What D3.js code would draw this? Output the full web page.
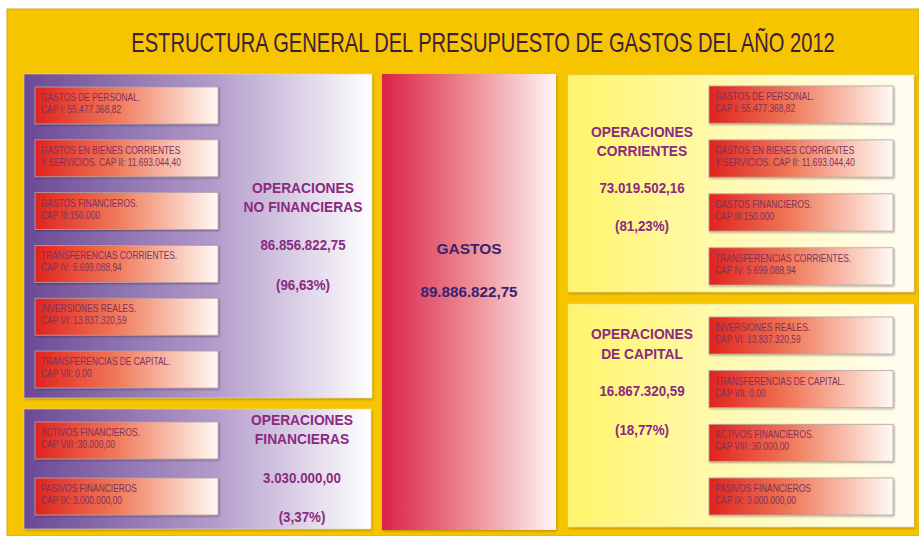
<!DOCTYPE html>
<html><head><meta charset="utf-8">
<script src="https://cdn.jsdelivr.net/npm/d3@7"></script>
<style>html,body{margin:0;padding:0;background:#fff;}svg{display:block;}</style>
</head><body>
<script>
// ---- data ----
const title = "ESTRUCTURA GENERAL DEL PRESUPUESTO DE GASTOS DEL AÑO 2012";
const chapterLine1 = [
  "GASTOS DE PERSONAL.",
  "GASTOS EN BIENES CORRIENTES",
  "GASTOS FINANCIEROS.",
  "TRANSFERENCIAS CORRIENTES.",
  "INVERSIONES REALES.",
  "TRANSFERENCIAS DE CAPITAL.",
  "ACTIVOS FINANCIEROS.",
  "PASIVOS FINANCIEROS"
];
const chapterLine2 = [
  "CAP I: 55.477.368,82",
  "Y SERVICIOS. CAP II: 11.693.044,40",
  "CAP III:150.000",
  "CAP IV: 5.699.088,94",
  "CAP VI: 13.837.320,59",
  "CAP VII: 0,00",
  "CAP VIII :30.000,00",
  "CAP IX: 3.000.000,00"
];
const groupName1 = ["OPERACIONES", "OPERACIONES", "OPERACIONES", "OPERACIONES"];
const groupName2 = ["NO FINANCIERAS", "FINANCIERAS", "CORRIENTES", "DE CAPITAL"];
const groupTotals = ["86.856.822,75", "3.030.000,00", "73.019.502,16", "16.867.320,59"];
const groupShares = ["(96,63%)", "(3,37%)", "(81,23%)", "(18,77%)"];
const groupMembers = [[0,1,2,3,4,5], [6,7], [0,1,2,3], [4,5,6,7]];
const totalName = "GASTOS";
const totalValue = "89.886.822,75";

// ---- layout (not data) ----
const W = 919, H = 536;
const panels = [
  {x:24, y:74, w:348, h:324, fill:"gPurple", boxX:35, boxW:183, band:[87,388], pad:0.3, labelX:303, labelY:[193,212,250,290]},
  {x:24, y:409, w:347, h:120, fill:"gPurple", boxX:35, boxW:183, band:[422,515], pad:0.34, labelX:302, labelY:[425,444,483,522]},
  {x:568, y:75, w:346, h:217, fill:"gYellow", boxX:709, boxW:184, band:[86,285], pad:0.31, labelX:642, labelY:[137,156,193,231]},
  {x:568, y:304, w:346, h:223, fill:"gYellow", boxX:709, boxW:184, band:[317,515], pad:0.31, labelX:642, labelY:[339,359,396,435]}
];
const center = {x:382, y:74, w:174, h:456, cx:469, ty:[254,297]};
const FONT = "Arial,'Liberation Sans',sans-serif";

const svg = d3.select("body").append("svg").attr("width", W).attr("height", H);
const defs = svg.append("defs");
function grad(id, c0, c1, mid) {
  const g = defs.append("linearGradient").attr("id", id).attr("x1","0").attr("x2","1").attr("y1","0").attr("y2","0");
  g.append("stop").attr("offset","0").attr("stop-color", c0);
  if (mid) g.append("stop").attr("offset", mid[0]).attr("stop-color", mid[1]);
  g.append("stop").attr("offset","1").attr("stop-color", c1);
}
grad("gPurple", "#6a4995", "#ffffff", [0.55, "#b39ccb"]);
grad("gYellow", "#fff46a", "#fffdf4", [0.5, "#fffab8"]);
grad("gRed", "#e0231e", "#fffaf6", [0.45, "#f07a5a"]);
grad("gCenter", "#dc2148", "#fff6f6", [0.5, "#ec8a92"]);
const sh = defs.append("filter").attr("id","sh").attr("x","-5%").attr("y","-5%").attr("width","115%").attr("height","115%");
sh.append("feDropShadow").attr("dx",1).attr("dy",1.5).attr("stdDeviation",1).attr("flood-color","#7a5a00").attr("flood-opacity",0.45);
const sh2 = defs.append("filter").attr("id","sh2").attr("x","-5%").attr("y","-10%").attr("width","115%").attr("height","130%");
sh2.append("feDropShadow").attr("dx",1).attr("dy",1).attr("stdDeviation",0.8).attr("flood-color","#000").attr("flood-opacity",0.35);

// background
svg.append("rect").attr("x",7).attr("y",9).attr("width",W-7).attr("height",H-9)
  .attr("fill","#f7c500").attr("stroke","#d4a820").attr("stroke-width",1);

// title, horizontally condensed to the reference width
const tEl = svg.append("text").attr("text-anchor","middle")
  .attr("font-family", FONT).attr("font-size", 27).attr("fill","#3b1f3f").text(title);
const tw = tEl.node().getComputedTextLength();
tEl.attr("transform", `translate(483,52) scale(${704 / tw},1)`);

// center panel
svg.append("rect").attr("x",center.x).attr("y",center.y).attr("width",center.w).attr("height",center.h)
  .attr("fill","url(#gCenter)").attr("filter","url(#sh)");
svg.append("text").attr("x",center.cx).attr("y",center.ty[0]).attr("text-anchor","middle")
  .attr("font-family",FONT).attr("font-weight","bold").attr("font-size",15.5)
  .attr("fill","#3a2270").text(totalName);
svg.append("text").attr("x",center.cx).attr("y",center.ty[1]).attr("text-anchor","middle")
  .attr("font-family",FONT).attr("font-weight","bold").attr("font-size",15.2)
  .attr("fill","#3a2270").text(totalValue);

// group panels
const gp = svg.selectAll("g.panel").data(panels).join("g").attr("class","panel");
gp.append("rect").attr("x",d=>d.x).attr("y",d=>d.y).attr("width",d=>d.w).attr("height",d=>d.h)
  .attr("fill",d=>`url(#${d.fill})`).attr("stroke","#e6d9a0").attr("stroke-width",0.6).attr("filter","url(#sh)");

gp.each(function(p, gi) {
  const g = d3.select(this);
  const members = groupMembers[gi];
  const y = d3.scaleBand().domain(members.map((m,i)=>i)).range(p.band).paddingInner(p.pad).paddingOuter(0);
  const boxes = g.selectAll("g.box").data(members).join("g").attr("class","box")
    .attr("transform",(m,i)=>`translate(${p.boxX},${y(i)})`);
  boxes.append("rect").attr("width",p.boxW).attr("height",y.bandwidth())
    .attr("fill","url(#gRed)").attr("stroke","#b5a5a8").attr("stroke-width",0.8).attr("filter","url(#sh2)");
  boxes.append("text").attr("transform","translate(6,14) scale(0.8,1)").attr("font-family",FONT).attr("font-size",10.5)
    .attr("fill","#80305c").text(m=>chapterLine1[m]);
  boxes.append("text").attr("transform","translate(6,26) scale(0.8,1)").attr("font-family",FONT).attr("font-size",10.5)
    .attr("fill","#80305c").text(m=>chapterLine2[m]);

  const lines = [groupName1[gi], groupName2[gi], groupTotals[gi], groupShares[gi]];
  g.selectAll("text.lab").data(lines).join("text").attr("class","lab")
    .attr("transform",(t,i)=>`translate(${p.labelX},${p.labelY[i]}) scale(0.92,1)`).attr("text-anchor","middle")
    .attr("font-family",FONT).attr("font-weight","bold")
    .attr("font-size",(t,i)=> i<2 ? 15 : 14.5).attr("fill","#8a2a80").text(t=>t);
});
</script>
</body></html>
